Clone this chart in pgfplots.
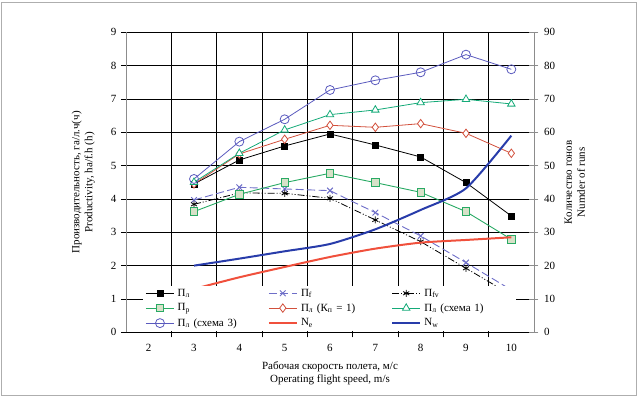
\documentclass[border=0pt]{standalone}
\usepackage{pgfplots}
\pgfplotsset{compat=1.18}
\usepackage{fontspec}
\setmainfont{Liberation Serif}
\definecolor{cPf}{RGB}{110,110,200}
\definecolor{cPp}{RGB}{40,170,100}
\definecolor{cPpf}{RGB}{215,225,200}
\definecolor{cK}{RGB}{210,80,60}
\definecolor{cS1}{RGB}{20,170,120}
\definecolor{cS3}{RGB}{90,90,190}
\definecolor{cNe}{RGB}{240,80,60}
\definecolor{cNw}{RGB}{40,60,170}
\definecolor{caxis}{RGB}{140,140,140}
\begin{document}
\begin{tikzpicture}
\useasboundingbox (0pt,0pt) rectangle (638pt,396pt);
\draw[caxis!70,line width=0.5pt] (1pt,1pt) rectangle (636pt,394pt);
% grid (behind everything), aligned with the axis box 126..534 x 63.7..363.7
\foreach \gx in {171.33,216.67,262,307.33,352.67,398,443.33,488.67}{\draw[black,line width=0.5pt] (\gx pt,63.7pt) -- (\gx pt,363.7pt);}
\foreach \gy in {97.03,130.37,163.7,197.03,230.37,263.7,297.03,330.37,363.7}{\draw[black,line width=0.5pt] (126pt,\gy pt) -- (534pt,\gy pt);}
\begin{axis}[
  font=\fontsize{11}{13}\selectfont,
  /pgf/number format/assume math mode=true,
  at={(126pt,63.7pt)}, anchor=south west,
  scale only axis, width=408pt, height=300pt,
  xmin=1.5, xmax=10.5, ymin=0, ymax=9,
  xtick={2,...,10},
  minor xtick={2.5,3.5,...,9.5},
  ytick={0,...,9},
  axis x line*=bottom, axis y line*=left,
  x axis line style={black, line width=0.5pt},
  y axis line style={caxis, line width=0.6pt},
  tick align=outside,
  major tick length=5pt, minor tick length=5pt,
  tick style={black, line width=0.5pt},
  major x tick style={draw=none},
  xticklabel style={yshift=-3pt},
  yticklabel style={xshift=-1pt},
  xlabel={Рабочая скорость полета, м/с\\Operating flight  speed, m/s},
  xlabel style={align=center, at={(axis description cs:0.5,-0.135)}, anchor=center},
  ylabel={Производительность, га/л.ч(ч)\\Productivity, ha/f.h (h)},
  ylabel style={align=center, at={(axis description cs:-0.105,0.5)}, anchor=center, rotate=0},
]
% П_л
\addplot[black, line width=0.8pt, mark=square*, mark size=3pt, mark options={solid,fill=black}] coordinates {(3,4.45) (4,5.17) (5,5.59) (6,5.95) (7,5.62) (8,5.26) (9,4.49) (10,3.49)};
% П_f
\addplot[cPf, line width=0.9pt, dash pattern=on 8pt off 3.5pt, mark=x, mark size=4pt, mark options={solid}] coordinates {(3,3.97) (4,4.35) (5,4.3) (6,4.25) (7,3.59) (8,2.89) (9,2.09) (10,1.27)};
% П_fv
\addplot[black, line width=0.8pt, dash pattern=on 7pt off 2pt on 1pt off 2pt on 1pt off 2pt, mark=asterisk, mark size=3.5pt, mark options={solid}] coordinates {(3,3.84) (4,4.18) (5,4.17) (6,4.02) (7,3.37) (8,2.72) (9,1.92) (10,1.12)};
% П_р
\addplot[cPp, line width=0.9pt, mark=square*, mark size=3.7pt, mark options={solid,fill=cPpf,draw=cPp}] coordinates {(3,3.62) (4,4.14) (5,4.49) (6,4.77) (7,4.49) (8,4.2) (9,3.62) (10,2.79)};
% П_л (К_п = 1)
\addplot[cK, line width=0.8pt, mark=diamond*, mark size=4.2pt, mark options={solid,fill=white}] coordinates {(3,4.45) (4,5.35) (5,5.79) (6,6.21) (7,6.15) (8,6.26) (9,5.97) (10,5.37)};
% П_л (схема 1)
\addplot[cS1, line width=0.8pt, mark=triangle*, mark size=4.3pt, mark options={solid,fill=white}] coordinates {(3,4.5) (4,5.37) (5,6.07) (6,6.53) (7,6.67) (8,6.89) (9,6.99) (10,6.85)};
% П_л (схема 3)
\addplot[cS3, line width=0.8pt, mark=o, mark size=4.5pt, mark options={solid,fill=white}] coordinates {(3,4.6) (4,5.72) (5,6.39) (6,7.27) (7,7.56) (8,7.8) (9,8.33) (10,7.89)};
\end{axis}
\begin{axis}[
  font=\fontsize{11}{13}\selectfont,
  /pgf/number format/assume math mode=true,
  at={(126pt,63.7pt)}, anchor=south west,
  scale only axis, width=408pt, height=300pt,
  xmin=1.5, xmax=10.5, ymin=0, ymax=90,
  axis x line=none, axis y line*=right,
  y axis line style={caxis, line width=0.6pt},
  ytick={0,10,...,90},
  tick align=center, major tick length=9pt,
  tick style={caxis, line width=0.6pt},
  yticklabel style={xshift=2pt},
  ylabel={Количество гонов\\Numder of runs},
  ylabel style={align=center, at={(axis description cs:1.1,0.5)}, anchor=center, rotate=0},
  legend columns=3,
  legend cell align=left,
  legend image code/.code={\draw[mark repeat=2,mark phase=2] plot coordinates {(0pt,0pt) (14pt,0pt) (28pt,0pt)};},
  legend style={at={(axis description cs:0.04,0.004)}, anchor=south west, fill=white, draw=none,
    font=\fontsize{11}{12}\selectfont, column sep=2pt, row sep=3.5pt,
    nodes={inner sep=1.2pt, text width=87pt, align=left}},
]
\addlegendimage{black, line width=0.8pt, mark=square*, mark size=3pt, mark options={solid,fill=black}}
\addlegendentry{П\textsubscript{л}}
\addlegendimage{cPf, line width=0.9pt, dash pattern=on 8pt off 3.5pt, mark=x, mark size=4pt, mark options={solid}}
\addlegendentry{П\textsubscript{f}}
\addlegendimage{black, line width=0.8pt, dash pattern=on 7pt off 2pt on 1pt off 2pt on 1pt off 2pt, mark=asterisk, mark size=3.5pt, mark options={solid}}
\addlegendentry{П\textsubscript{fv}}
\addlegendimage{cPp, line width=0.9pt, mark=square*, mark size=3.7pt, mark options={solid,fill=cPpf,draw=cPp}}
\addlegendentry{П\textsubscript{р}}
\addlegendimage{cK, line width=0.8pt, mark=diamond*, mark size=4.2pt, mark options={solid,fill=white}}
\addlegendentry{П\textsubscript{л} (К\textsubscript{п} = 1)}
\addlegendimage{cS1, line width=0.8pt, mark=triangle*, mark size=4.3pt, mark options={solid,fill=white}}
\addlegendentry{П\textsubscript{л} (схема 1)}
\addlegendimage{cS3, line width=0.8pt, mark=o, mark size=4.5pt, mark options={solid,fill=white}}
\addlegendentry{П\textsubscript{л} (схема 3)}
% N_e
\addplot[cNe, line width=2pt, smooth, tension=0.4] coordinates {(3,13) (4,16.5) (5,19.6) (6,22.6) (7,25.1) (8,26.9) (9,27.7) (10,28.5)};
\addlegendentry{N\textsubscript{e}}
% N_w
\addplot[cNw, line width=2pt, smooth, tension=0.4] coordinates {(3,20) (4,22.1) (5,24.3) (6,26.5) (7,30.9) (8,36.7) (9,43.2) (10,59)};
\addlegendentry{N\textsubscript{w}}
\end{axis}
\end{tikzpicture}
\end{document}
